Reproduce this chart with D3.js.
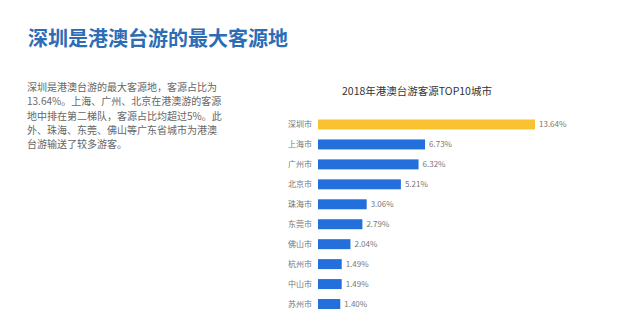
<!DOCTYPE html>
<html>
<head>
<meta charset="utf-8">
<script src="https://cdn.jsdelivr.net/npm/d3@7"></script>
<style>
  body { margin: 0; background: #fff; }
  svg { display: block; font-family: "Noto Sans CJK SC", "Noto Sans", sans-serif; }
</style>
</head>
<body>
<div id="chart"></div>
<script>
// chart data
const cities = ["深圳市", "上海市", "广州市", "北京市", "珠海市", "东莞市", "佛山市", "杭州市", "中山市", "苏州市"];
const shares = [13.64, 6.73, 6.32, 5.21, 3.06, 2.79, 2.04, 1.49, 1.49, 1.40];
const shareLabels = ["13.64%", "6.73%", "6.32%", "5.21%", "3.06%", "2.79%", "2.04%", "1.49%", "1.49%", "1.40%"];

const headline = "深圳是港澳台游的最大客源地";
const chartTitle = "2018年港澳台游客源TOP10城市";
const bodyLines = [
  "深圳是港澳台游的最大客源地，客源占比为",
  "13.64%。上海、广州、北京在港澳游的客源",
  "地中排在第二梯队，客源占比均超过5%。此",
  "外、珠海、东莞、佛山等广东省城市为港澳",
  "台游输送了较多游客。"
];

const width = 640, height = 325;

const svg = d3.select("#chart").append("svg")
  .attr("width", width)
  .attr("height", height);

// page headline
svg.append("text")
  .attr("x", 28)
  .attr("y", 46)
  .attr("font-size", 20)
  .attr("font-weight", "bold")
  .attr("fill", "#2d6db5")
  .text(headline);

// description paragraph
svg.append("g")
  .selectAll("text")
  .data(bodyLines)
  .join("text")
    .attr("x", 27)
    .attr("y", (d, i) => 91 + i * 14.3)
    .attr("font-size", 10)
    .attr("fill", "#666")
    .text(d => d);

// bar chart
const xscale = d3.scaleLinear()
  .domain([0, 13.64])
  .range([318, 535]);

const yscale = d3.scaleBand()
  .domain(cities)
  .range([114.5, 314])
  .paddingInner(0.5)
  .paddingOuter(0.25);

svg.append("text")
  .attr("x", 417)
  .attr("y", 95)
  .attr("text-anchor", "middle")
  .attr("font-size", 10.5)
  .attr("fill", "#333")
  .text(chartTitle);

// category axis, no line or ticks
const yAxis = g => g
  .attr("transform", `translate(312,0)`)
  .call(d3.axisLeft(yscale).tickSize(0).tickPadding(0))
  .call(g => g.select(".domain").remove())
  .call(g => g.selectAll("text")
    .attr("font-size", 8)
    .attr("fill", "#777")
    .attr("font-family", "\"Noto Sans CJK SC\", sans-serif"));

svg.append("g").call(yAxis);

svg.append("g")
  .selectAll("rect")
  .data(cities)
  .join("rect")
    .attr("x", xscale(0))
    .attr("y", d => yscale(d))
    .attr("width", (d, i) => xscale(shares[i]) - xscale(0))
    .attr("height", yscale.bandwidth())
    .attr("fill", (d, i) => i === 0 ? "#f9c232" : "#2370dc");

svg.append("g")
  .selectAll("text")
  .data(cities)
  .join("text")
    .attr("x", (d, i) => xscale(shares[i]) + 4)
    .attr("y", d => yscale(d) + yscale.bandwidth() / 2)
    .attr("dy", "0.35em")
    .attr("font-size", 8)
    .attr("fill", "#777")
    .text((d, i) => shareLabels[i]);
</script>
</body>
</html>
